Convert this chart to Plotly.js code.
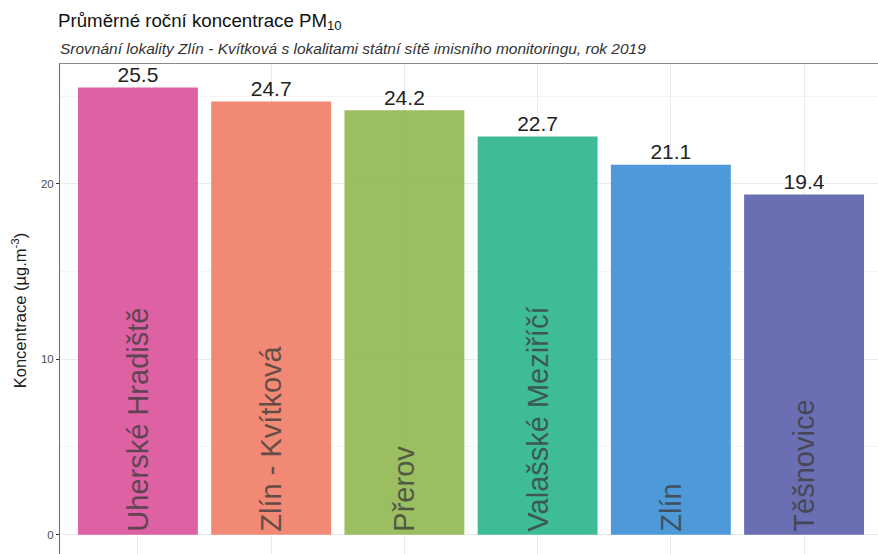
<!DOCTYPE html>
<html><head><meta charset="utf-8">
<script src="https://cdn.plot.ly/plotly-3.0.1.min.js"></script>
<style>html,body{margin:0;padding:0;overflow:hidden;background:#fff}#chart{width:890px;height:580px}</style>
</head><body><div id="chart"></div>
<script>
const categories = ["Uherské Hradiště","Zlín - Kvítková","Přerov","Valašské Meziříčí","Zlín","Těšnovice"];
const values = [25.5, 24.7, 24.2, 22.7, 21.1, 19.4];
const valueLabels = ["25.5","24.7","24.2","22.7","21.1","19.4"];
const barColors = ["#DC589E","#F0836E","#96BB59","#33B891","#4493D8","#6266AE"];
const yTicks = [0, 10, 20];

const F = "Liberation Sans, Arial, sans-serif";
const bars = {
  type: "bar", x: categories, y: values, width: 0.9,
  marker: {color: barColors, opacity: 0.95, line: {width: 0}},
  text: categories, textposition: "inside", insidetextanchor: "start", textangle: -90,
  insidetextfont: {family: F, size: 29, color: "rgba(60,60,60,0.78)"},
  hoverinfo: "x+y", showlegend: false
};
const labels = {
  type: "scatter", mode: "text", x: categories, y: values, text: valueLabels,
  textposition: "top center", textfont: {family: F, size: 21, color: "#222222"},
  cliponaxis: false, hoverinfo: "skip", showlegend: false
};
const layout = {
  width: 890, height: 580,
  margin: {l: 60, r: 6, t: 64, b: 23},
  paper_bgcolor: "#fff", plot_bgcolor: "#fff",
  font: {family: F, color: "#333"},
  title: {text: "Průměrné roční koncentrace PM<sub>10</sub>", x: 58/890, xanchor: "left", xref: "container",
          y: 1 - 20/580, yanchor: "middle", yref: "container", font: {family: F, size: 18.7, color: "#111"}},
  annotations: [{text: "<i>Srovnání lokality Zlín - Kvítková s lokalitami státní sítě imisního monitoringu, rok 2019</i>",
    xref: "paper", yref: "paper", x: -2/824, y: 1 + 16/493, xanchor: "left", yanchor: "middle",
    showarrow: false, font: {family: F, size: 15.5, color: "#333"}}],
  xaxis: {type: "category", range: [-0.585, 5.6], showticklabels: false, ticks: "outside", ticklen: 3, tickcolor: "#333",
    showgrid: true, gridcolor: "#ebebeb", gridwidth: 1, zeroline: false,
    showline: true, mirror: true, linecolor: "#8a8a8a", linewidth: 1},
  yaxis: {range: [-1.275, 26.84], tickvals: yTicks, ticks: "outside", ticklen: 3, tickcolor: "#333",
    tickfont: {family: F, size: 11.5, color: "#4d4d4d"},
    showgrid: true, gridcolor: "#ebebeb", gridwidth: 1, zeroline: false,
    minor: {dtick: 5, tick0: 0, showgrid: true, gridcolor: "#f4f4f4", ticklen: 0},
    showline: true, mirror: true, linecolor: "#666", linewidth: 1,
    title: {text: "Koncentrace (µg.m<sup>-3</sup>)", standoff: 10, font: {family: F, size: 16.5, color: "#222"}}},
  bargap: 0.1
};
Plotly.newPlot("chart", [bars, labels], layout, {displayModeBar: false, staticPlot: true});
</script></body></html>
